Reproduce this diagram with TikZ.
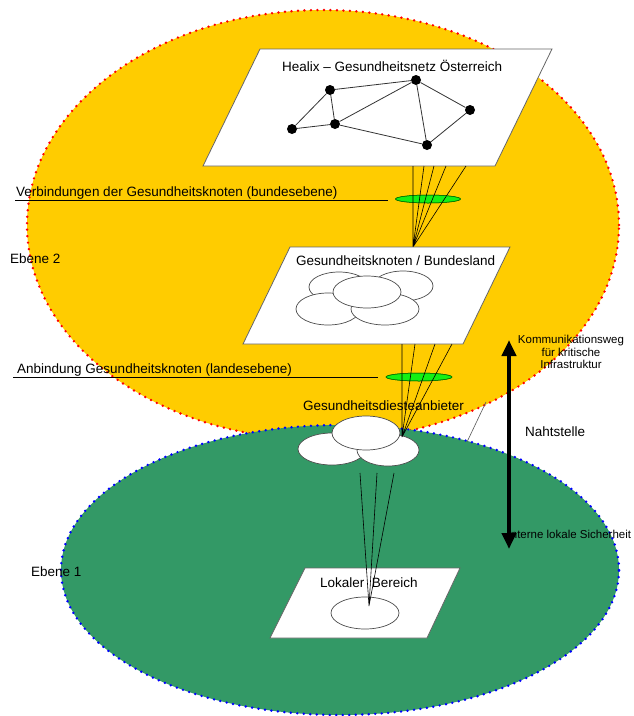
\documentclass[tikz,border=0pt]{standalone}
\usepackage{fontspec}
\setmainfont{Liberation Sans}
\usetikzlibrary{arrows.meta}
\definecolor{ylw}{RGB}{255,204,0}
\definecolor{grn}{RGB}{51,153,102}
\definecolor{lgrn}{RGB}{20,240,20}
\begin{document}
\begin{tikzpicture}[x=1pt,y=-1pt,
  lbl/.style={inner sep=0pt, font=\fontsize{13.5}{16}\selectfont, anchor=base west},
  sml/.style={inner sep=0pt, font=\fontsize{11.5}{13}\selectfont, anchor=base},
  plane/.style={fill=white, draw=gray!80!black, line width=0.8pt},
  blob/.style={fill=white, draw=gray!60!black, line width=0.7pt},
  dot/.style={circle, fill=black, inner sep=0pt, minimum size=10pt},
  net/.style={draw=black!80, line width=0.8pt},
  feed/.style={draw=black, line width=0.6pt},
  lens/.style={fill=lgrn, draw=green!45!black, line width=0.5pt},
  reddots/.style={draw=red, line width=2.7pt, line cap=round, dash pattern=on 0pt off 6.5pt},
  bluedots/.style={draw=blue, line width=2.7pt, line cap=round, dash pattern=on 0pt off 6.5pt},
  bigarrow/.style={draw=black, line width=4.5pt, {Triangle[width=14pt,length=16pt]}-{Triangle[width=14pt,length=16pt]}}
]
\useasboundingbox (0,0) rectangle (633,716);
\fill[white] (0,0) rectangle (633,716);

% levels
\fill[ylw] (323,225) ellipse [x radius=296pt, y radius=215pt];
\draw[reddots] (323,225) ellipse [x radius=296pt, y radius=215pt];
\fill[grn] (340,570) ellipse [x radius=279pt, y radius=145pt];
\draw[bluedots] (340,570) ellipse [x radius=279pt, y radius=145pt];

% Healix plane
\draw[plane] (260,49) -- (552,49) -- (495,166) -- (203,166) -- cycle;
\node[lbl] (healix) at (282,71) {Healix – Gesundheitsnetz Österreich};
\node[dot] (nA) at (330,90) {};
\node[dot] (nB) at (416,80) {};
\node[dot] (nC) at (470,110) {};
\node[dot] (nD) at (427,145) {};
\node[dot] (nE) at (335,124) {};
\node[dot] (nF) at (292,129) {};
\draw[net] (nA) -- (nB) (nA) -- (nF) (nA) -- (nE) (nF) -- (nE) (nE) -- (nB)
           (nE) -- (nD) (nB) -- (nD) (nB) -- (nC) (nC) -- (nD);

% federal connections
\node[lbl] (verb) at (16,196) {Verbindungen der Gesundheitsknoten (bundesebene)};
\coordinate (u1a) at (15,200);
\coordinate (u1b) at (388,200);
\draw[feed] (u1a) -- (u1b);
\fill[lens] (428,199) ellipse [x radius=32.5pt, y radius=4pt];
\draw[lens, fill=none] (428,199) ellipse [x radius=32.5pt, y radius=4pt];
\coordinate (h0) at (413,166);
\coordinate (h1) at (424,166);
\coordinate (h2) at (434,166);
\coordinate (h3) at (446,166);
\coordinate (h4) at (466,166);
\coordinate (k1) at (413,247);
\draw[feed] (h0) -- (k1) (h1) -- (k1) (h2) -- (k1) (h3) -- (k1) (h4) -- (k1);

\node[lbl] (eb2) at (10,263) {Ebene 2};

% Bundesland plane
\draw[plane] (290,247) -- (510,247) -- (463,344) -- (243,344) -- cycle;
\node[lbl] (bund) at (296,265) {Gesundheitsknoten / Bundesland};
\draw[blob] (339,287) ellipse [x radius=30pt, y radius=15pt];
\draw[blob] (403,286) ellipse [x radius=30pt, y radius=15pt];
\draw[blob] (328,309) ellipse [x radius=32pt, y radius=16pt];
\draw[blob] (385,309) ellipse [x radius=34pt, y radius=16pt];
\draw[blob] (367,292) ellipse [x radius=34pt, y radius=16pt];

% regional connections
\node[lbl] (anb) at (17,373) {Anbindung Gesundheitsknoten (landesebene)};
\coordinate (u2a) at (13,377);
\coordinate (u2b) at (378,377);
\draw[feed] (u2a) -- (u2b);
\fill[lens] (419,377) ellipse [x radius=33pt, y radius=4pt];
\draw[lens, fill=none] (419,377) ellipse [x radius=33pt, y radius=4pt];
\coordinate (g0) at (402,344);
\coordinate (g1) at (415,344);
\coordinate (g2) at (435,344);
\coordinate (g3) at (452,344);
\coordinate (k2) at (402,437);

% providers
\node[lbl] (anbieter) at (303,410) {Gesundheitsdiesteanbieter};
\draw[blob] (332,449) ellipse [x radius=34pt, y radius=16pt];
\draw[blob] (388,450) ellipse [x radius=31pt, y radius=16pt];
\draw[blob] (366,433) ellipse [x radius=34pt, y radius=17pt];
\draw[feed] (g0) -- (k2) (g1) -- (k2) (g2) -- (k2) (g3) -- (k2);

% local area
\node[lbl] (eb1) at (31,576) {Ebene 1};
\draw[plane] (305,568) -- (460,568) -- (427,638) -- (270,638) -- cycle;
\node[lbl] (lokal) at (320,587) {Lokaler\ \ Bereich};
\draw[blob] (365,613) ellipse [x radius=34pt, y radius=16pt];
\coordinate (c0) at (360,473);
\coordinate (c1) at (377,473);
\coordinate (c2) at (394,473);
\coordinate (k3) at (369,606);
\draw[feed] (c0) -- (k3) (c1) -- (k3) (c2) -- (k3);

% interface
\node[lbl] (naht) at (525,436) {Nahtstelle};
\coordinate (ld1) at (486,402);
\coordinate (ld2) at (467,442);
\draw[gray!70!black, line width=0.6pt] (ld1) -- (ld2);
\node[sml] (kw1) at (571,343) {Kommunikationsweg};
\node[sml] (kw2) at (571,356) {für kritische};
\node[sml] (kw3) at (571,368) {Infrastruktur};
\node[sml, anchor=base west] (ils) at (507.5,538) {Interne lokale Sicherheit};
\coordinate (atop) at (509,340);
\coordinate (abot) at (509,549);
\draw[bigarrow] (atop) -- (abot);
\end{tikzpicture}
\end{document}
